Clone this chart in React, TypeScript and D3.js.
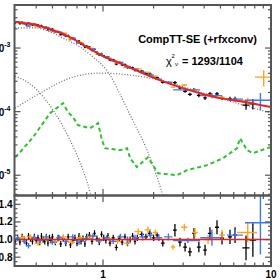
import * as d3 from 'd3';

// Plot frame (pixels)
const L = 14.5;
const R = 271;
const T = 5;
const MID = 195.5;
const B = 266;

// Total model (red), keV vs photons cm^-2 s^-1 keV^-1
const modelE = [0.3, 0.4, 0.5, 0.6, 0.7, 0.8, 1.0, 1.26, 1.66, 2.18, 2.99, 3.78, 4.97, 6.54, 10];
const modelF = [2.56e-3, 2.3e-3, 1.92e-3, 1.6e-3, 1.29e-3, 1.04e-3, 7.48e-4, 5.8e-4, 4.19e-4, 3.13e-4, 2.34e-4, 1.95e-4, 1.63e-4, 1.46e-4, 1.18e-4];

// soft comptonised component (grey dotted)
const softE = [0.3, 0.394, 0.484, 0.578, 0.73, 0.872, 1.0, 1.1, 1.26, 1.51, 1.83, 2.1, 2.28];
const softF = [2.07e-3, 2.07e-3, 1.79e-3, 1.43e-3, 1.04e-3, 7.22e-4, 5.21e-4, 3.76e-4, 1.89e-4, 7.08e-5, 2.48e-5, 9.31e-6, 4.67e-6];

// hard comptonised hump (grey dotted)
const humpE = [0.3, 0.321, 0.422, 0.636, 0.96, 1.45, 2.18, 3.78, 6.54, 10];
const humpF = [1.135e-4, 1.27e-4, 1.95e-4, 3.37e-4, 4.04e-4, 3.76e-4, 3.13e-4, 2.03e-4, 1.31e-4, 9.47e-5];

// cool thermal component (grey dotted)
const coolE = [0.3, 0.321, 0.405, 0.504, 0.636, 0.76, 0.837, 0.848];
const coolF = [3.62e-4, 3.37e-4, 2.18e-4, 1.06e-4, 3.56e-5, 1.2e-5, 5.4e-6, 4.67e-6];

// reflection (rfxconv, green dashed)
const reflE = [0.3, 0.321, 0.383, 0.484, 0.578, 0.619, 0.663, 0.71, 0.837, 0.934, 0.986, 1.028, 1.26, 1.39, 1.45, 1.59, 1.85, 1.98, 2.13, 2.76, 3.16, 4.16, 5.18, 6.28, 6.54, 7.2, 7.82, 9.86];
const reflF = [1.92e-5, 2.3e-5, 3.96e-5, 9.47e-5, 1.36e-4, 9.82e-5, 8.19e-5, 6.12e-5, 5.5e-5, 6.59e-5, 3.56e-5, 2.66e-5, 2.48e-5, 2.66e-5, 1.85e-5, 1.34e-5, 1.92e-5, 1.44e-5, 1.07e-5, 1.0e-5, 1.2e-5, 1.44e-5, 1.85e-5, 2.66e-5, 3.83e-5, 2.48e-5, 2.22e-5, 2.76e-5];

// black spectrum, dense low-energy bins (data/model ratio)
const blackLoE = [
  0.30, 0.31, 0.32, 0.33, 0.34, 0.35, 0.36, 0.37, 0.38, 0.39, 0.40, 0.41, 0.42, 0.43, 0.44, 0.45, 0.46, 0.47, 0.48, 0.49, 0.50,
  0.52, 0.54, 0.56, 0.58, 0.60, 0.62, 0.64, 0.66, 0.68, 0.70, 0.72, 0.74, 0.76, 0.78, 0.80,
  0.83, 0.86, 0.89, 0.92, 0.95, 0.98, 1.01, 1.04, 1.07, 1.10,
  1.15, 1.20, 1.25, 1.30, 1.35, 1.40, 1.45, 1.50, 1.55, 1.60,
  1.70, 1.80, 1.90, 2.00, 2.10,
];
const blackLoR = [
  0.98, 1.02, 0.97, 1.03, 1.0, 0.96, 1.04, 1.01, 0.98, 1.03, 0.99, 1.02, 0.97, 1.04, 1.0, 0.98, 1.03, 0.96, 1.02, 0.99, 1.03,
  0.97, 1.02, 0.95, 1.01, 0.96, 1.03, 0.94, 0.99, 1.02, 0.96, 1.04, 0.98, 1.01, 0.95, 1.03,
  1.05, 0.98, 1.07, 1.01, 0.97, 1.06, 1.02, 0.99, 1.04, 0.96,
  1.02, 0.91, 1.01, 0.97, 1.03, 0.96, 1.0, 1.04, 0.98, 1.02,
  1.06, 1.03, 1.07, 1.02, 1.05,
];
const blackLoErr = 0.035;

// black spectrum, high-energy bins
const blackHiE = [2.27, 2.68, 2.87, 3.08, 3.29, 3.48, 3.72, 4.05, 4.33, 4.77, 5.11, 5.7, 6.11, 7.1, 7.8];
const blackHiDE = [0.06, 0.07, 0.07, 0.08, 0.09, 0.09, 0.1, 0.1, 0.12, 0.13, 0.14, 0.16, 0.17, 0.35, 0.35];
const blackHiR = [0.96, 1.106, 0.97, 0.915, 0.86, 1.07, 0.915, 0.88, 1.07, 1.14, 1.015, 1.03, 1.05, 0.905, 0.995];
const blackHiErr = [0.04, 0.07, 0.05, 0.05, 0.05, 0.06, 0.06, 0.06, 0.07, 0.08, 0.07, 0.08, 0.09, 0.14, 0.19];

// blue spectrum
const blueE = [0.31, 0.34, 0.36, 0.39, 0.42, 0.46, 0.5, 0.55, 0.6, 0.66, 0.72, 0.79, 0.87, 0.95, 1.05, 1.15, 1.27, 1.4, 1.55, 1.72, 1.92, 2.15, 2.45, 3.2, 4.45, 6.13, 8.65];
const blueDE = [0.012, 0.012, 0.012, 0.015, 0.016, 0.018, 0.02, 0.022, 0.025, 0.027, 0.03, 0.033, 0.036, 0.04, 0.045, 0.05, 0.055, 0.06, 0.065, 0.075, 0.085, 0.1, 0.14, 0.585, 0.66, 0.67, 1.65];
const blueR = [1.01, 0.98, 0.93, 1.02, 0.99, 1.03, 0.97, 1.02, 0.98, 1.03, 0.97, 1.01, 1.04, 0.99, 1.02, 0.98, 1.03, 1.0, 1.02, 1.03, 1.05, 1.02, 1.03, 0.99, 1.02, 1.05, 1.19];
const blueErr = [0.03, 0.03, 0.03, 0.03, 0.03, 0.03, 0.03, 0.03, 0.03, 0.03, 0.03, 0.03, 0.03, 0.03, 0.03, 0.03, 0.035, 0.035, 0.035, 0.04, 0.04, 0.04, 0.04, 0.03, 0.09, 0.06, 0.36];

// orange spectrum
const orangeE = [0.33, 0.37, 0.41, 0.46, 0.52, 0.58, 0.65, 0.73, 0.84, 0.95, 1.08, 1.22, 1.39, 1.62, 1.85, 2.05, 2.61, 3.05, 3.53, 4.22, 5.11, 7.27, 9.05];
const orangeDE = [0.015, 0.02, 0.02, 0.02, 0.025, 0.03, 0.03, 0.035, 0.04, 0.05, 0.05, 0.06, 0.07, 0.08, 0.08, 0.08, 0.08, 0.12, 0.14, 0.18, 0.2, 0.99, 1.03];
const orangeR = [1.02, 1.03, 0.96, 1.01, 0.98, 1.03, 0.97, 1.02, 1.03, 0.99, 1.01, 0.98, 0.96, 1.09, 1.11, 1.08, 0.915, 1.14, 1.08, 1.0, 1.05, 1.08, 2.81];
const orangeErr = [0.03, 0.03, 0.03, 0.03, 0.03, 0.03, 0.03, 0.03, 0.03, 0.03, 0.03, 0.03, 0.03, 0.035, 0.035, 0.035, 0.03, 0.04, 0.05, 0.05, 0.06, 0.11, 0.8];

// axis ticks and labels
const xMajor = [1, 10];
const xMinor = [0.4, 0.5, 0.6, 0.7, 0.8, 0.9, 2, 3, 4, 5, 6, 7, 8, 9];
const fluxExponents = [-3, -4, -5];
const ratioLabels = [0.8, 1.0, 1.2, 1.4];

const FONT = 'Liberation Sans, Arial, Helvetica, sans-serif';
const FRAME = '#555';

interface Pt { e: number; de: number; r: number; err: number }

function zip(e: number[], de: number[], r: number[], err: number[]): Pt[] {
  return e.map((v, i) => ({ e: v, de: de[i], r: r[i], err: err[i] }));
}

export default function App() {
  const x = d3.scaleLog().domain([0.3, 10]).range([15.2, R]);
  const yU = d3.scaleLog().domain([4.8e-6, 4.75e-3]).range([MID, T]);
  const yL = d3.scaleLinear().domain([0.7, 1.5]).range([B, MID]);

  // model in log-log space, used to place data = ratio * model
  const logModel = d3.scaleLog().domain(modelE).range(modelF.map(Math.log10));
  const modelAt = (e: number) => Math.pow(10, logModel(e));

  const path = (es: number[], fs: number[], curve: d3.CurveFactory) =>
    d3.line<[number, number]>()
      .x(d => x(d[0]))
      .y(d => yU(d[1]))
      .curve(curve)(es.map((e, i) => [e, fs[i]] as [number, number])) || undefined;

  const blackLo: Pt[] = blackLoE.map((e, i) => {
    const n = blackLoE.length;
    const de = i === 0 ? (blackLoE[1] - e) / 2
      : i === n - 1 ? (e - blackLoE[n - 2]) / 2
      : (blackLoE[i + 1] - blackLoE[i - 1]) / 4;
    return { e, de, r: blackLoR[i], err: blackLoErr };
  });
  const blackHi = zip(blackHiE, blackHiDE, blackHiR, blackHiErr);
  const blue = zip(blueE, blueDE, blueR, blueErr);
  const orange = zip(orangeE, orangeDE, orangeR, orangeErr);

  const sets: { pts: Pt[]; color: string; sw: number }[] = [
    { pts: blackLo, color: '#000', sw: 1.2 },
    { pts: blackHi, color: '#000', sw: 1.3 },
    { pts: orange, color: '#ffa31a', sw: 1.4 },
    { pts: blue, color: '#3a78f2', sw: 1.4 },
  ];

  const upperCross = (p: Pt, color: string, sw: number, k: string) => {
    const m = modelAt(p.e);
    const yc = yU(m * p.r);
    return (
      <g key={k} stroke={color} strokeWidth={sw}>
        <line x1={x(p.e - p.de)} x2={x(p.e + p.de)} y1={yc} y2={yc} />
        <line x1={x(p.e)} x2={x(p.e)} y1={yU(m * (p.r - p.err))} y2={yU(m * (p.r + p.err))} />
      </g>
    );
  };
  const lowerCross = (p: Pt, color: string, sw: number, k: string) => {
    const yc = yL(p.r);
    return (
      <g key={k} stroke={color} strokeWidth={sw}>
        <line x1={x(p.e - p.de)} x2={x(p.e + p.de)} y1={yc} y2={yc} />
        <line x1={x(p.e)} x2={x(p.e)} y1={yL(p.r - p.err)} y2={yL(p.r + p.err)} />
      </g>
    );
  };

  const modelPath = d3.line<[number, number]>()
    .x(d => x(d[0])).y(d => yU(d[1]))
    .curve(d3.curveMonotoneX)(modelE.map((e, i) => [e, modelF[i]] as [number, number])) || undefined;

  const yTicks = yU.ticks();
  const isDecade = (v: number) => Math.abs(Math.log10(v) - Math.round(Math.log10(v))) < 1e-6;
  const rTicks = d3.range(0.75, 1.499, 0.05);
  const isRatioMajor = (v: number) => ratioLabels.some(l => Math.abs(l - v) < 1e-6);

  const xTickLines = (v: number, major: boolean) => {
    const len = major ? 6.5 : 3.5;
    const px = x(v);
    return (
      <g key={`xt-${v}`}>
        <line x1={px} x2={px} y1={T} y2={T + len} />
        <line x1={px} x2={px} y1={MID - len} y2={MID + len} />
        <line x1={px} x2={px} y1={B - len} y2={B} />
      </g>
    );
  };

  return (
    <svg width={280} height={280} style={{ position: 'absolute', left: 0, top: 0, background: '#fff' }} fontFamily={FONT}>
      <defs>
        <clipPath id="clip-upper"><rect x={L} y={T} width={R - L} height={MID - T} /></clipPath>
        <clipPath id="clip-lower"><rect x={L} y={MID} width={R - L} height={B - MID} /></clipPath>
      </defs>

      {/* Upper panel: model components */}
      <g clipPath="url(#clip-upper)">
        <g fill="none" stroke="#6a6a6a" strokeWidth={1.2} strokeDasharray="1,1.8">
          <path d={path(softE, softF, d3.curveMonotoneX)} />
          <path d={path(humpE, humpF, d3.curveMonotoneX)} />
          <path d={path(coolE, coolF, d3.curveMonotoneX)} />
        </g>
        <path d={path(reflE, reflF, d3.curveLinear)} fill="none" stroke="#2cc22c" strokeWidth={2} strokeDasharray="4,3" />

        {sets.map((s, si) => s.pts.map((p, i) => upperCross(p, s.color, s.sw, `u-${si}-${i}`)))}

        <path d={modelPath} fill="none" stroke="#f01e1e" strokeWidth={2} />
      </g>

      {/* Lower panel: ratio */}
      <g clipPath="url(#clip-lower)">
        {sets.map((s, si) => s.pts.map((p, i) => lowerCross(p, s.color, s.sw, `l-${si}-${i}`)))}
        <line x1={L} x2={R} y1={yL(1)} y2={yL(1)} stroke="#f01e1e" strokeWidth={1.5} />
      </g>

      {/* Ticks */}
      <g stroke={FRAME} strokeWidth={1.2}>
        {xMinor.map(v => xTickLines(v, false))}
        {xMajor.map(v => xTickLines(v, true))}
        {yTicks.map(v => {
          const len = isDecade(v) ? 6 : 3;
          const py = yU(v);
          return (
            <g key={`yt-${v}`}>
              <line x1={L} x2={L + len} y1={py} y2={py} />
              <line x1={R - len} x2={R} y1={py} y2={py} />
            </g>
          );
        })}
        {rTicks.map(v => {
          const len = isRatioMajor(v) ? 6 : 3;
          const py = yL(v);
          return (
            <g key={`rt-${v}`}>
              <line x1={L} x2={L + len} y1={py} y2={py} />
              <line x1={R - len} x2={R} y1={py} y2={py} />
            </g>
          );
        })}
      </g>

      {/* Frames */}
      <rect x={L} y={T} width={R - L} height={MID - T} fill="none" stroke={FRAME} strokeWidth={2} />
      <rect x={L} y={MID} width={R - L} height={B - MID} fill="none" stroke={FRAME} strokeWidth={2} />

      {/* Tick labels (cut at the left edge, as in the original figure crop) */}
      <g fontSize={10} fontWeight="bold" fill="#000">
        {fluxExponents.map(ex => (
          <text key={`fl-${ex}`} x={10.5} y={yU(Math.pow(10, ex)) + 4} textAnchor="end">
            10<tspan dy={-5} fontSize={7}>{ex}</tspan>
          </text>
        ))}
        {ratioLabels.map(v => (
          <text key={`rl-${v}`} x={12.5} y={yL(v) + 3.5} textAnchor="end">{v.toFixed(1)}</text>
        ))}
        {xMajor.map(v => (
          <text key={`xl-${v}`} x={x(v)} y={278} textAnchor="middle">{v}</text>
        ))}
      </g>

      {/* Annotation */}
      <text x={257} y={43} textAnchor="end" fontSize={11} fontWeight="bold">CompTT-SE (+rfxconv)</text>
      <text x={166} y={65} fontSize={11}>χ</text>
      <text x={171.5} y={58} fontSize={6}>2</text>
      <text x={175} y={66} fontSize={6}>ν</text>
      <text x={182} y={65} fontSize={11} fontWeight="bold">= 1293/1104</text>
    </svg>
  );
}
